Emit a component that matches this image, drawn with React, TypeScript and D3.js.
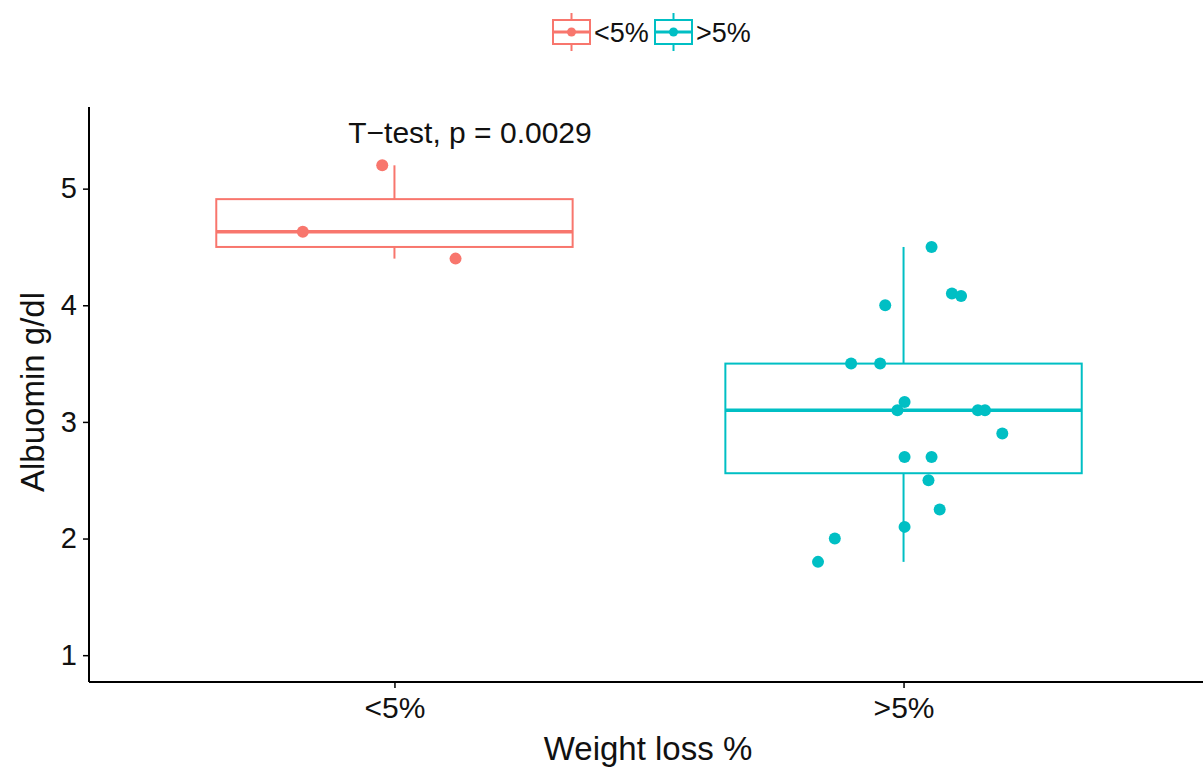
import { useEffect, useRef } from "react";
import * as d3 from "d3";

const groups = ["<5%", ">5%"];
const colors = ["#F8766D", "#00BFC4"];

// summary stats: [lower whisker, Q1, median, Q3, upper whisker]
const boxLow = [4.4, 4.5, 4.63, 4.91, 5.2];
const boxHigh = [1.8, 2.56, 3.1, 3.5, 4.5];

// jittered points: value + horizontal jitter (fraction of the category step)
const lowValues = [5.2, 4.63, 4.4];
const lowJitter = [-0.024, -0.18, 0.12];
const highValues = [4.5, 4.0, 4.1, 4.08, 3.5, 3.5, 3.17, 3.1, 3.1, 3.1, 2.9, 2.7, 2.7, 2.5, 2.25, 2.1, 2.0, 1.8];
const highJitter = [0.055, -0.036, 0.095, 0.113, -0.103, -0.046, 0.002, -0.012, 0.146, 0.16, 0.194, 0.002, 0.055, 0.049, 0.071, 0.002, -0.135, -0.168];

const yTicks = [1, 2, 3, 4, 5];
const annotation = "T\u2212test, p = 0.0029";
const xTitle = "Weight loss %";
const yTitle = "Albuomin g/dl";

const W = 1203;
const H = 769;
// panel runs slightly past the right edge of the picture (it was cropped)
const margin = { top: 107, right: -6, bottom: 87, left: 89 };
const font = "'Liberation Sans', Arial, sans-serif";

export default function App() {
  const ref = useRef<SVGSVGElement>(null);

  useEffect(() => {
    const svg = d3.select(ref.current);
    svg.selectAll("*").remove();

    const x = d3
      .scalePoint()
      .domain(groups)
      .range([margin.left, W - margin.right])
      .padding(0.6);
    const y = d3.scaleLinear().domain([0.77, 5.7]).range([H - margin.bottom, margin.top]);
    const step = x.step();
    const boxW = step * 0.7;

    const boxes = [boxLow, boxHigh];
    const points = [
      lowValues.map((v, i) => ({ v, j: lowJitter[i] })),
      highValues.map((v, i) => ({ v, j: highJitter[i] })),
    ];

    groups.forEach((g, gi) => {
      const cx = x(g)!;
      const [lo, q1, med, q3, hi] = boxes[gi];
      const col = colors[gi];
      const gg = svg.append("g");
      gg.append("line").attr("x1", cx).attr("x2", cx).attr("y1", y(hi)).attr("y2", y(q3))
        .attr("stroke", col).attr("stroke-width", 2);
      gg.append("line").attr("x1", cx).attr("x2", cx).attr("y1", y(q1)).attr("y2", y(lo))
        .attr("stroke", col).attr("stroke-width", 2);
      gg.append("rect").attr("x", cx - boxW / 2).attr("width", boxW)
        .attr("y", y(q3)).attr("height", y(q1) - y(q3))
        .attr("fill", "white").attr("stroke", col).attr("stroke-width", 2);
      gg.append("line").attr("x1", cx - boxW / 2).attr("x2", cx + boxW / 2)
        .attr("y1", y(med)).attr("y2", y(med))
        .attr("stroke", col).attr("stroke-width", 3.5);
      gg.selectAll("circle").data(points[gi]).join("circle")
        .attr("cx", (d) => cx + d.j * step)
        .attr("cy", (d) => y(d.v))
        .attr("r", 6)
        .attr("fill", col);
    });

    // axes
    const yAxis = svg.append("g").attr("transform", `translate(${margin.left},0)`)
      .call(d3.axisLeft(y).tickValues(yTicks).tickSize(6).tickPadding(6).tickFormat(d3.format("d")));
    yAxis.select(".domain").attr("d", `M0,${margin.top}V${H - margin.bottom}`).attr("stroke-width", 2);
    yAxis.selectAll(".tick line").attr("stroke-width", 1.5);
    yAxis.selectAll("text").attr("font-family", font).attr("font-size", 29).attr("fill", "#111");

    const xAxis = svg.append("g").attr("transform", `translate(0,${H - margin.bottom})`)
      .call(d3.axisBottom(x).tickSize(6).tickPadding(6));
    xAxis.select(".domain").attr("d", `M${margin.left},0H${W}`).attr("stroke-width", 2);
    xAxis.selectAll(".tick line").attr("stroke-width", 1.5);
    xAxis.selectAll("text").attr("font-family", font).attr("font-size", 30).attr("fill", "#111")
      .attr("dy", "0.8em");

    // titles
    svg.append("text").attr("x", 648).attr("y", 760)
      .attr("text-anchor", "middle").attr("font-family", font).attr("font-size", 33)
      .attr("fill", "#111").text(xTitle);
    svg.append("text").attr("transform", `translate(44,392) rotate(-90)`)
      .attr("text-anchor", "middle").attr("font-family", font).attr("font-size", 33)
      .attr("fill", "#111").text(yTitle);

    // annotation
    svg.append("text").attr("x", 470).attr("y", 143).attr("text-anchor", "middle")
      .attr("font-family", font).attr("font-size", 30).attr("fill", "#111").text(annotation);

    // legend
    const legendX = [553, 655];
    groups.forEach((g, gi) => {
      const lg = svg.append("g").attr("transform", `translate(${legendX[gi]},32)`);
      const col = colors[gi];
      lg.append("line").attr("x1", 18.5).attr("x2", 18.5).attr("y1", -19).attr("y2", 19)
        .attr("stroke", col).attr("stroke-width", 2);
      lg.append("rect").attr("x", 0).attr("y", -12).attr("width", 37).attr("height", 24)
        .attr("fill", "white").attr("stroke", col).attr("stroke-width", 2);
      lg.append("line").attr("x1", 0).attr("x2", 37).attr("y1", 0).attr("y2", 0)
        .attr("stroke", col).attr("stroke-width", 3);
      lg.append("circle").attr("cx", 18.5).attr("cy", 0).attr("r", 4.5).attr("fill", col);
      lg.append("text").attr("x", 41).attr("y", 0).attr("dy", "0.36em")
        .attr("font-family", font).attr("font-size", 27).attr("fill", "#111").text(g);
    });
  }, []);

  return (
    <svg ref={ref} width={W} height={H} style={{ position: "absolute", left: 0, top: 0, background: "white" }} />
  );
}
